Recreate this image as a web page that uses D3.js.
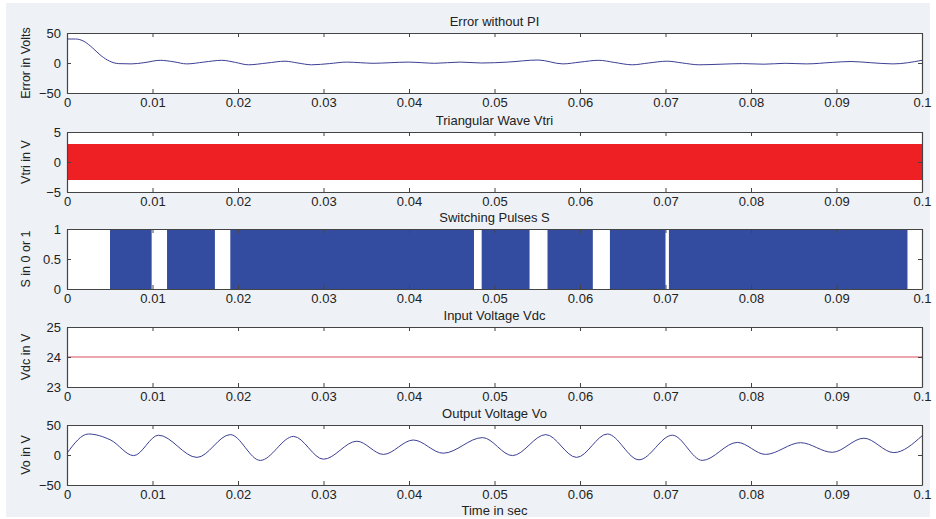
<!DOCTYPE html>
<html>
<head>
<meta charset="utf-8">
<script src="https://cdn.jsdelivr.net/npm/d3@7"></script>
<style>
  body { margin: 0; background: #fff; }
  svg text { font-family: "Liberation Sans", Arial, sans-serif; fill: #222; }
</style>
</head>
<body>
<div id="chart"></div>
<script>
// time ticks shared by all panels
var timeTicks = [0, 0.01, 0.02, 0.03, 0.04, 0.05, 0.06, 0.07, 0.08, 0.09, 0.1];

// Error without PI (t in s, volts)
var errT = [0, 0.001, 0.002, 0.003, 0.004, 0.005, 0.006, 0.0075, 0.009, 0.0109, 0.0125, 0.014, 0.016, 0.0181, 0.0197, 0.0212, 0.0234, 0.0255, 0.027, 0.0286,
  0.0307, 0.0327, 0.0343, 0.0358, 0.0378, 0.0399, 0.0415, 0.043, 0.046, 0.0485, 0.0515, 0.0551, 0.058, 0.06, 0.0622, 0.064, 0.0661, 0.068, 0.0702, 0.072, 0.0739,
  0.0765, 0.079, 0.0815, 0.084, 0.0865, 0.0895, 0.0917, 0.094, 0.0966, 0.1];
var errV = [40, 40, 36, 25, 12, 3, -1, -1.5, 0.5, 4.5, 2, -1.5, 1.5, 4.5, 1, -3, 0, 3, 0, -3,
  -1, 1.5, 0.5, -0.5, 0.5, 1.5, 0.5, -0.5, 1.5, 0, 1.5, 5, -1.5, 1.5, 4.5, 1, -3, 0, 3, 0, -3,
  -2, -1, -2, -0.5, -1.5, 1, 2.5, 0.5, -1.5, 4.5];

// Triangular carrier Vtri: dense band between its peaks
var vtriMin = -3, vtriMax = 3;

// Switching pulses S: intervals where S = 1
var pulseOn = [[0.00503, 0.0099], [0.0117, 0.0173], [0.0191, 0.0476], [0.0485, 0.0541],
  [0.0562, 0.0615], [0.0635, 0.0700], [0.0704, 0.0983]];

// Input voltage Vdc
var vdcT = [0, 0.1];
var vdcV = [24, 24];

// Output voltage Vo
var voT = [0, 0.0025, 0.0051, 0.0078, 0.0107, 0.0152, 0.0191, 0.0226, 0.0265, 0.0300, 0.0339, 0.0370, 0.0405, 0.0440,
  0.0486, 0.0521, 0.0560, 0.0596, 0.0632, 0.0669, 0.0708, 0.0743, 0.0784, 0.0817, 0.0858, 0.0895, 0.0932, 0.0967, 0.1];
var voV = [3, 35, 25, -1, 33, -4, 34, -9, 31, -7, 23, 1, 25, 3,
  29, -1, 34, -4, 35, -8, 33, -9, 21, 1, 20.5, 4.5, 28, 4, 32];

var width = 936, height = 519;
var left = 67, right = 922;

var svg = d3.select('#chart').append('svg')
  .attr('width', width)
  .attr('height', height);

svg.append('rect')
  .attr('x', 6).attr('y', 3)
  .attr('width', 924).attr('height', 514)
  .attr('fill', '#eef1f5');

var x = d3.scaleLinear().domain([0, 0.1]).range([left, right]);

function makePanel(top, domain, yTicks, title, ylabel) {
  var bottom = top + 60;
  var y = d3.scaleLinear().domain(domain).range([bottom, top]);
  var g = svg.append('g');

  g.append('rect')
    .attr('x', left).attr('y', top)
    .attr('width', right - left).attr('height', bottom - top)
    .attr('fill', '#fff');

  var plot = g.append('g');

  // inside ticks on all four sides (matlab box)
  var tick = 4;
  g.append('g').attr('transform', 'translate(0,' + bottom + ')')
    .call(d3.axisBottom(x).tickValues(timeTicks).tickFormat(d3.format('~g')).tickSizeInner(-tick).tickSizeOuter(0).tickPadding(5))
    .call(styleAxis);
  g.append('g').attr('transform', 'translate(0,' + top + ')')
    .call(d3.axisTop(x).tickValues(timeTicks).tickFormat('').tickSizeInner(-tick).tickSizeOuter(0))
    .call(styleAxis);
  g.append('g').attr('transform', 'translate(' + left + ',0)')
    .call(d3.axisLeft(y).tickValues(yTicks).tickFormat(d3.format('~g')).tickSizeInner(-tick).tickSizeOuter(0).tickPadding(6))
    .call(styleAxis);
  g.append('g').attr('transform', 'translate(' + right + ',0)')
    .call(d3.axisRight(y).tickValues(yTicks).tickFormat('').tickSizeInner(-tick).tickSizeOuter(0))
    .call(styleAxis);

  g.append('text')
    .attr('x', (left + right) / 2).attr('y', top - 7)
    .attr('text-anchor', 'middle')
    .style('font-size', '13px')
    .text(title);

  g.append('text')
    .attr('transform', 'translate(30,' + (top + bottom) / 2 + ')rotate(-90)')
    .attr('text-anchor', 'middle')
    .style('font-size', '12.5px')
    .text(ylabel);

  return { plot: plot, y: y, top: top, bottom: bottom };
}

function styleAxis(sel) {
  sel.select('.domain').attr('stroke', '#444').attr('stroke-width', 1.2);
  sel.selectAll('.tick line').attr('stroke', '#444');
  sel.selectAll('.tick text').style('font-size', '13px').attr('fill', '#222');
}

// Panel 1: error
var p1 = makePanel(33, [-50, 50], [-50, 0, 50], 'Error without PI', 'Error in Volts');
p1.plot.append('path')
  .datum(d3.range(errT.length))
  .attr('fill', 'none')
  .attr('stroke', '#3c3f93')
  .attr('stroke-width', 1)
  .attr('d', d3.line().curve(d3.curveMonotoneX)
    .x(function(i) { return x(errT[i]); })
    .y(function(i) { return p1.y(errV[i]); }));

// Panel 2: triangular wave band
var p2 = makePanel(132, [-5, 5], [-5, 0, 5], 'Triangular Wave Vtri', 'Vtri in V');
p2.plot.append('rect')
  .attr('x', x(0)).attr('width', x(0.1) - x(0))
  .attr('y', p2.y(vtriMax)).attr('height', p2.y(vtriMin) - p2.y(vtriMax))
  .attr('fill', '#ee2024');

// Panel 3: switching pulses
var p3 = makePanel(229, [0, 1], [0, 0.5, 1], 'Switching Pulses S', 'S in 0 or 1');
p3.plot.selectAll('rect')
  .data(pulseOn)
  .enter().append('rect')
  .attr('x', function(d) { return x(d[0]); })
  .attr('width', function(d) { return x(d[1]) - x(d[0]); })
  .attr('y', p3.y(1))
  .attr('height', p3.y(0) - p3.y(1))
  .attr('fill', '#344ca0');

// Panel 4: input voltage
var p4 = makePanel(327, [23, 25], [23, 24, 25], 'Input Voltage Vdc', 'Vdc in V');
p4.plot.append('path')
  .datum(d3.range(vdcT.length))
  .attr('fill', 'none')
  .attr('stroke', '#d9505e')
  .attr('stroke-width', 1.2)
  .attr('d', d3.line()
    .x(function(i) { return x(vdcT[i]); })
    .y(function(i) { return p4.y(vdcV[i]); }));

// Panel 5: output voltage
var p5 = makePanel(425, [-50, 50], [-50, 0, 50], 'Output Voltage Vo', 'Vo in V');
p5.plot.append('path')
  .datum(d3.range(voT.length))
  .attr('fill', 'none')
  .attr('stroke', '#3c3f93')
  .attr('stroke-width', 1)
  .attr('d', d3.line().curve(d3.curveMonotoneX)
    .x(function(i) { return x(voT[i]); })
    .y(function(i) { return p5.y(voV[i]); }));

svg.append('text')
  .attr('x', (left + right) / 2).attr('y', 515)
  .attr('text-anchor', 'middle')
  .style('font-size', '13px')
  .text('Time in sec');
</script>
</body>
</html>
